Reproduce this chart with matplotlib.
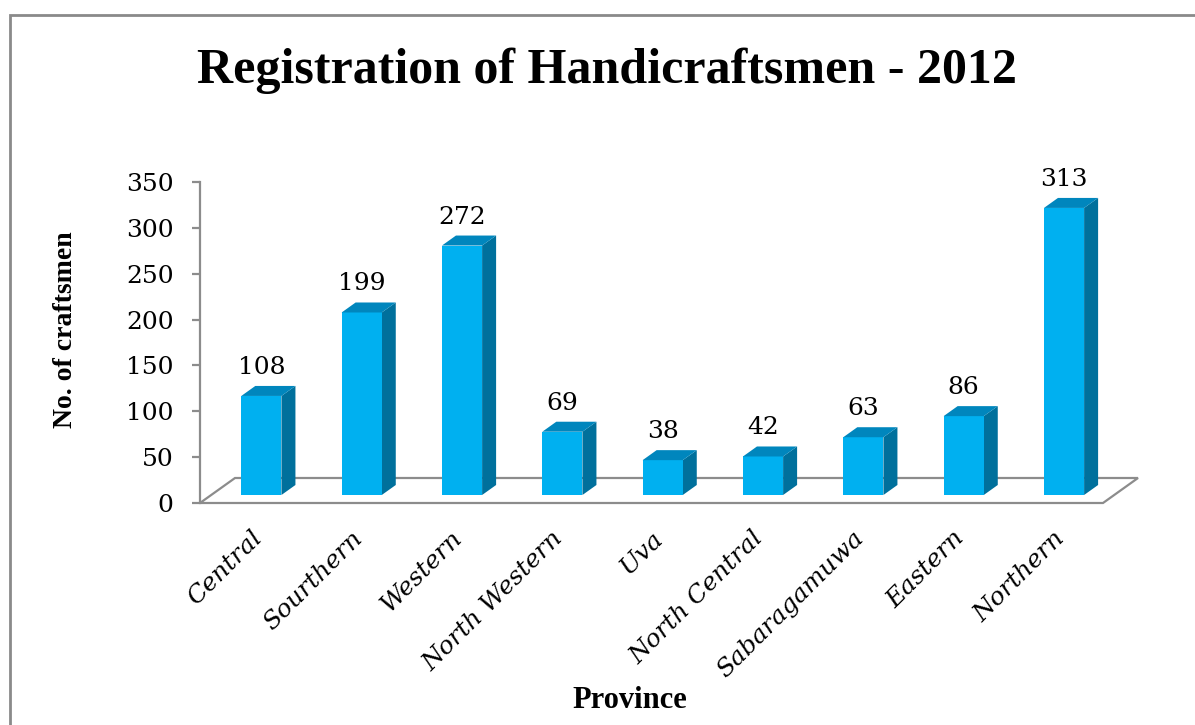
import matplotlib
matplotlib.use("Agg")
import matplotlib.pyplot as plt
from matplotlib.patches import Polygon, Rectangle

# data
provinces = ["Central", "Sourthern", "Western", "North Western", "Uva",
             "North Central", "Sabaragamuwa", "Eastern", "Northern"]
craftsmen = [108, 199, 272, 69, 38, 42, 63, 86, 313]
y_ticks = [0, 50, 100, 150, 200, 250, 300, 350]

W, H = 1195, 725
fig = plt.figure(figsize=(W / 100, H / 100), dpi=100)

# front plane of the 3d box, in pixels
left_px, right_px, top_px, bottom_px = 200, 1103, 182, 503
ax = fig.add_axes([left_px / W, (H - bottom_px) / H,
                   (right_px - left_px) / W, (bottom_px - top_px) / H])
n = len(provinces)
ymax = 350
ax.set_xlim(0, n)
ax.set_ylim(0, ymax)

sx = (right_px - left_px) / n
sy = (bottom_px - top_px) / ymax
# depth of the floor, converted to data units
FDX = 35 / sx
FDY = 25 / sy

grey = "#8c8c8c"
front_c = "#00b0f0"
side_c = "#00709c"
top_c = "#0086bd"

floor = Polygon([(0, 0), (n, 0), (n + FDX, FDY), (FDX, FDY)], closed=True,
                facecolor="white", edgecolor=grey, lw=1.6, clip_on=False, zorder=1)
ax.add_patch(floor)

bar_w = 0.4
d0, d1 = 0.32, 0.72   # where the bar sits inside the floor depth
for i, v in enumerate(craftsmen):
    ox, oy = d0 * FDX, d0 * FDY
    bx, by = (d1 - d0) * FDX, (d1 - d0) * FDY
    x0 = i + 0.5 - bar_w / 2 + ox
    x1 = x0 + bar_w
    side = Polygon([(x1, oy), (x1 + bx, oy + by), (x1 + bx, oy + by + v), (x1, oy + v)],
                   closed=True, facecolor=side_c, edgecolor="none", clip_on=False, zorder=3)
    front = Rectangle((x0, oy), bar_w, v, facecolor=front_c, edgecolor="none",
                      clip_on=False, zorder=4)
    top = Polygon([(x0, oy + v), (x1, oy + v), (x1 + bx, oy + by + v), (x0 + bx, oy + by + v)],
                  closed=True, facecolor=top_c, edgecolor="none", clip_on=False, zorder=4)
    for p in (side, front, top):
        ax.add_patch(p)
    ax.text(x0 + bar_w / 2, oy + by + v + 7 / sy, str(v), ha="center", va="bottom",
            family="DejaVu Serif", fontsize=18, color="black")

# axes styling
for s in ["top", "right", "bottom"]:
    ax.spines[s].set_visible(False)
ax.spines["left"].set_color(grey)
ax.spines["left"].set_linewidth(1.6)
ax.set_yticks(y_ticks)
ax.set_yticklabels([str(t) for t in y_ticks], family="DejaVu Serif", fontsize=18)
ax.tick_params(axis="y", length=6, width=1.6, color=grey, pad=13)

ax.set_xticks([i + 0.5 for i in range(n)])
ax.set_xticklabels(provinces, rotation=45, ha="right", rotation_mode="anchor",
                   family="DejaVu Serif", style="italic", fontsize=18)
ax.tick_params(axis="x", length=0, pad=17)
ax.patch.set_visible(False)

# texts
fig.text(607 / W, 1 - 71 / H, "Registration of Handicraftsmen - 2012",
         ha="center", va="center", family="Liberation Serif", weight="bold", fontsize=36)
fig.text(65 / W, 1 - 330 / H, "No. of craftsmen", rotation=90, ha="center", va="center",
         family="Liberation Serif", weight="bold", fontsize=20)
fig.text(630 / W, 1 - 700 / H, "Province", ha="center", va="center",
         family="Liberation Serif", weight="bold", fontsize=22)

# outer chart border (runs off the right and bottom edge)
fig.patches.append(Rectangle((10 / W, -0.1), 1.2, 1.1 - 15 / H, transform=fig.transFigure,
                             facecolor="none", edgecolor="#8a8a8a", lw=2))

fig.savefig("out.png", dpi=100)
